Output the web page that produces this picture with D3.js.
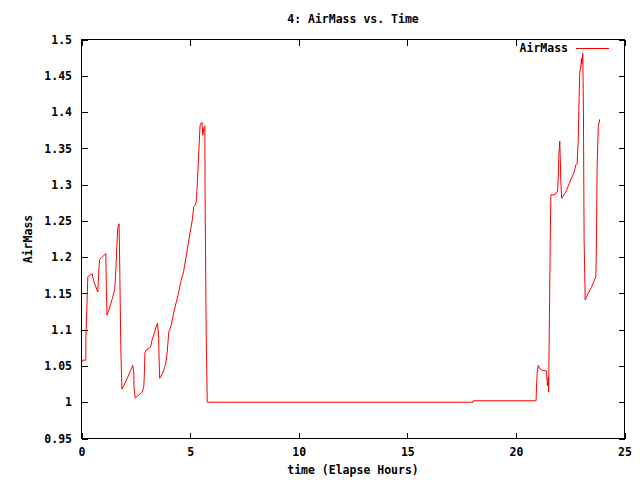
<!DOCTYPE html>
<html>
<head>
<meta charset="utf-8">
<script src="https://cdn.jsdelivr.net/npm/d3@7/dist/d3.min.js"></script>
<style>
  html, body { margin: 0; padding: 0; background: #fff; }
  svg { display: block; }
  text { font-family: "DejaVu Sans Mono", "Liberation Mono", monospace; font-weight: bold; font-size: 11.5px; fill: #000; }
</style>
</head>
<body>
<svg id="chart" width="640" height="480"></svg>
<script>
const title = "4: AirMass vs. Time";
const xLabel = "time (Elapse Hours)";
const yLabel = "AirMass";
const seriesName = "AirMass";
const xTicks = [0, 5, 10, 15, 20, 25];
const yTicks = [0.95, 1, 1.05, 1.1, 1.15, 1.2, 1.25, 1.3, 1.35, 1.4, 1.45, 1.5];

const times = [0, 0.06, 0.2, 0.2, 0.26, 0.29, 0.49, 0.57, 0.75, 0.77, 0.81, 0.84, 0.95, 1.12, 1.14, 1.17, 1.26, 1.44, 1.53, 1.58, 1.63, 1.67, 1.73, 1.76, 1.81, 1.86, 2.03, 2.21, 2.36, 2.41, 2.42, 2.47, 2.64, 2.79, 2.87, 2.9, 2.92, 2.98, 3.18, 3.25, 3.38, 3.45, 3.5, 3.55, 3.58, 3.6, 3.74, 3.87, 3.94, 3.99, 4.02, 4.13, 4.22, 4.33, 4.45, 4.57, 4.7, 4.79, 4.88, 5.0, 5.1, 5.17, 5.25, 5.29, 5.34, 5.42, 5.46, 5.54, 5.59, 5.63, 5.68, 5.69, 5.74, 5.79, 18.03, 18.04, 20.93, 20.94, 20.98, 21.03, 21.1, 21.21, 21.41, 21.45, 21.49, 21.51, 21.53, 21.58, 21.61, 21.75, 21.82, 21.92, 21.95, 21.98, 22.02, 22.04, 22.07, 22.11, 22.21, 22.33, 22.45, 22.56, 22.67, 22.76, 22.82, 22.87, 22.91, 22.94, 22.99, 23.02, 23.03, 23.07, 23.08, 23.11, 23.14, 23.19, 23.25, 23.36, 23.47, 23.57, 23.68, 23.71, 23.74, 23.79, 23.86];
const airmass = [1.055, 1.058, 1.058, 1.086, 1.143, 1.173, 1.177, 1.166, 1.152, 1.164, 1.187, 1.197, 1.2, 1.205, 1.164, 1.12, 1.127, 1.145, 1.156, 1.18, 1.217, 1.24, 1.246, 1.189, 1.074, 1.018, 1.028, 1.04, 1.051, 1.04, 1.019, 1.006, 1.01, 1.014, 1.022, 1.044, 1.068, 1.072, 1.076, 1.086, 1.098, 1.105, 1.109, 1.09, 1.051, 1.033, 1.04, 1.052, 1.067, 1.086, 1.097, 1.106, 1.12, 1.134, 1.148, 1.166, 1.18, 1.196, 1.212, 1.234, 1.251, 1.27, 1.272, 1.279, 1.306, 1.357, 1.382, 1.386, 1.368, 1.378, 1.381, 1.286, 1.095, 1.0, 1.0, 1.002, 1.002, 1.014, 1.04, 1.051, 1.046, 1.044, 1.043, 1.023, 1.035, 1.014, 1.083, 1.219, 1.286, 1.286, 1.287, 1.291, 1.309, 1.341, 1.36, 1.339, 1.302, 1.281, 1.286, 1.292, 1.301, 1.309, 1.316, 1.327, 1.329, 1.361, 1.421, 1.455, 1.462, 1.474, 1.466, 1.474, 1.481, 1.396, 1.225, 1.141, 1.145, 1.152, 1.158, 1.165, 1.173, 1.224, 1.325, 1.379, 1.39];

const svg = d3.select("#chart");
const L = 81.5, R = 624.5, T = 39.5, B = 438.5;
const x = d3.scaleLinear().domain([0, 25]).range([L, R]);
const y = d3.scaleLinear().domain([0.95, 1.5]).range([B, T]);
const tickLen = 6;

const fmtY = d => String(d);
const gBottom = svg.append("g").attr("transform", `translate(0,${B})`)
  .call(d3.axisBottom(x).tickValues(xTicks).tickSize(-tickLen).tickPadding(9).tickFormat(d3.format("d")));
const gTop = svg.append("g").attr("transform", `translate(0,${T})`)
  .call(d3.axisTop(x).tickValues(xTicks).tickSize(-tickLen).tickFormat(""));
const gLeft = svg.append("g").attr("transform", `translate(${L},0)`)
  .call(d3.axisLeft(y).tickValues(yTicks).tickSize(-tickLen).tickPadding(9.5).tickFormat(fmtY));
const gRight = svg.append("g").attr("transform", `translate(${R},0)`)
  .call(d3.axisRight(y).tickValues(yTicks).tickSize(-tickLen).tickFormat(""));

[gBottom, gTop, gLeft, gRight].forEach(g => {
  g.select(".domain").remove();
  g.selectAll(".tick line").attr("stroke", "#000").attr("shape-rendering", "crispEdges");
  g.selectAll(".tick text").attr("font-family", null).attr("font-size", null).style("fill", "#000");
});

svg.append("rect").attr("x", L).attr("y", T).attr("width", R - L).attr("height", B - T)
  .attr("fill", "none").attr("stroke", "#000").attr("stroke-width", 1).attr("shape-rendering", "crispEdges");

const pts = times.map((t, i) => [t, airmass[i]]);
svg.append("path").datum(pts)
  .attr("fill", "none").attr("stroke", "#ff0000").attr("stroke-width", 1)
  .attr("d", d3.line().x(d => x(d[0])).y(d => y(d[1])));

svg.append("text").attr("x", (L + R) / 2).attr("y", 23).attr("text-anchor", "middle").text(title);
svg.append("text").attr("x", (L + R) / 2).attr("y", 474).attr("text-anchor", "middle").text(xLabel);
svg.append("text").attr("transform", `translate(32,${(T + B) / 2}) rotate(-90)`).attr("text-anchor", "middle").text(yLabel);

svg.append("text").attr("x", 568).attr("y", 52).attr("text-anchor", "end").text(seriesName);
svg.append("line").attr("x1", 576).attr("x2", 609).attr("y1", 48.5).attr("y2", 48.5)
  .attr("stroke", "#ff0000").attr("stroke-width", 1).attr("shape-rendering", "crispEdges");
</script>
</body>
</html>
